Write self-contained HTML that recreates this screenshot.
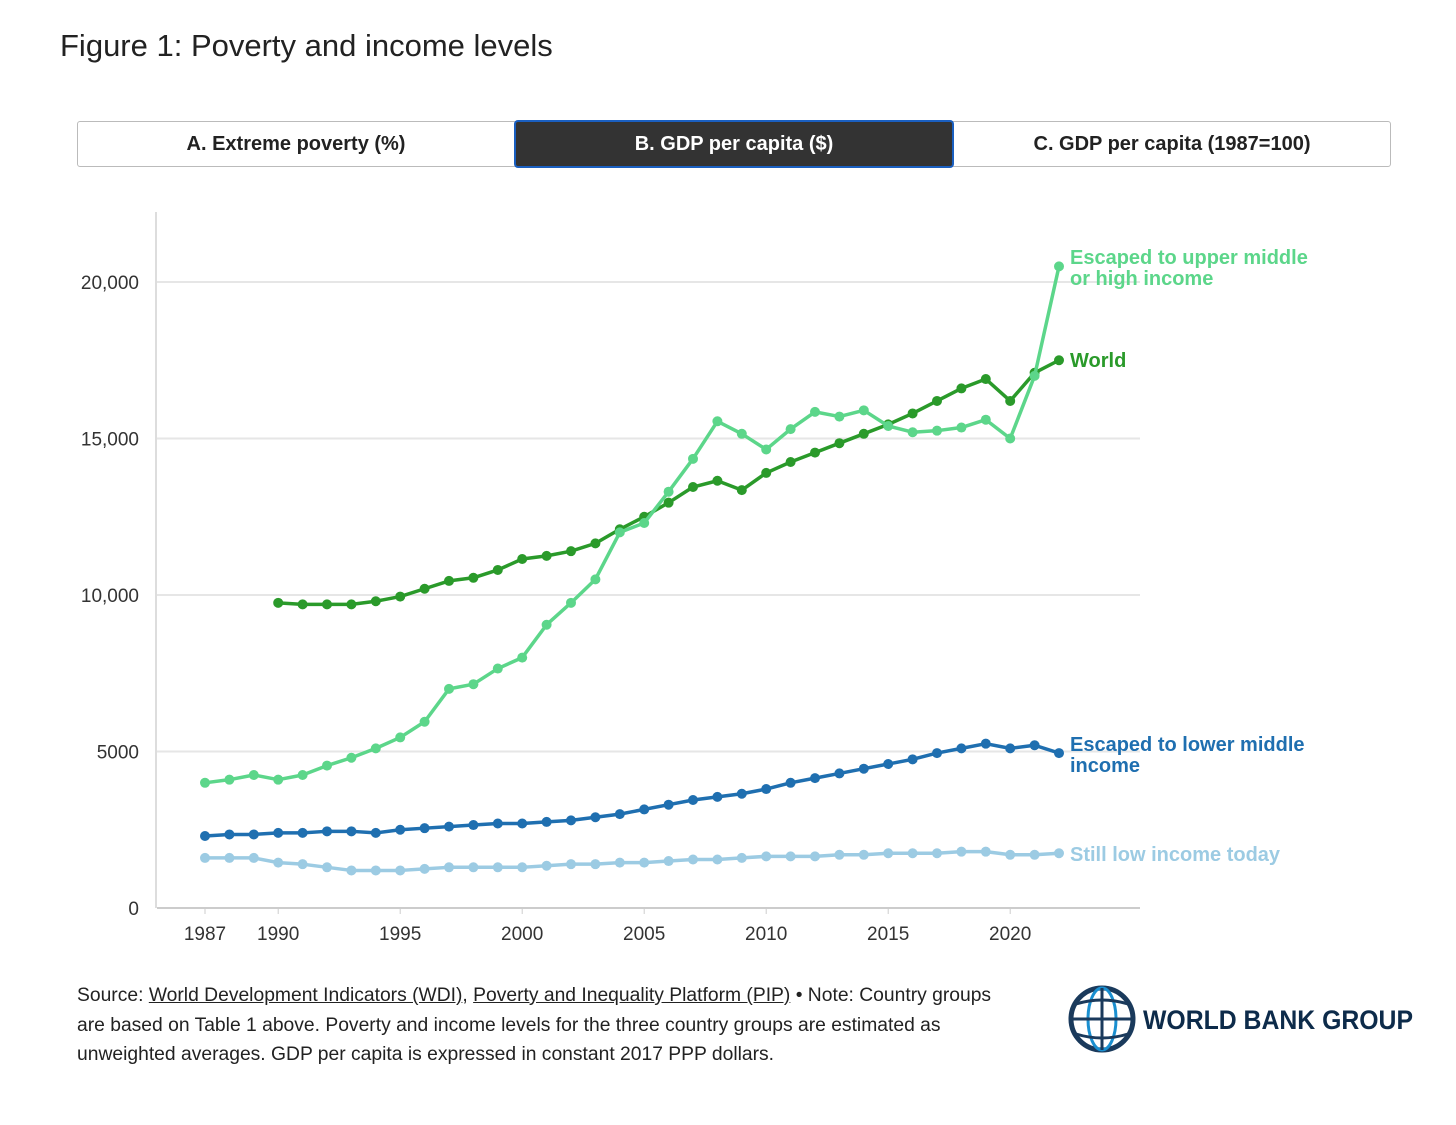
<!DOCTYPE html>
<html><head><meta charset="utf-8"><style>
body{margin:0;background:#fff;font-family:"Liberation Sans",sans-serif;}
#wrap{position:relative;width:1456px;height:1125px;overflow:hidden;}
.title{position:absolute;left:60px;top:28px;font-size:31px;color:#222;}
.tabs{position:absolute;left:77px;top:121px;width:1312px;height:44px;border:1px solid #bbb;border-radius:3px;display:flex;}
.tab{flex:1;display:flex;align-items:center;justify-content:center;font-size:20px;font-weight:bold;color:#222;}
.tab.on{background:#333;color:#fff;border:2px solid #1a5fc0;border-radius:4px;margin:-2px 0;}
.src{position:absolute;left:77px;top:981px;font-size:19.3px;line-height:29.5px;color:#222;width:915px;}
.src u{text-decoration:underline;}
</style></head><body><div id="wrap">
<div class="title">Figure 1: Poverty and income levels</div>
<div class="tabs">
<div class="tab">A. Extreme poverty (%)</div>
<div class="tab on">B. GDP per capita ($)</div>
<div class="tab">C. GDP per capita (1987=100)</div>
</div>
<svg id="chart" width="1456" height="1125" style="position:absolute;left:0;top:0"></svg>
<div class="src">Source: <u>World Development Indicators (WDI)</u>, <u>Poverty and Inequality Platform (PIP)</u> • Note: Country groups are based on Table 1 above. Poverty and income levels for the three country groups are estimated as unweighted averages. GDP per capita is expressed in constant 2017 PPP dollars.</div>
<svg style="position:absolute;left:1066px;top:984px" width="360" height="72">
<circle cx="36" cy="35" r="31" fill="none" stroke="#1a3a5c" stroke-width="5"/>
<ellipse cx="36" cy="35" rx="14" ry="31" fill="none" stroke="#1a8fd0" stroke-width="3"/>
<line x1="5" y1="35" x2="67" y2="35" stroke="#1a3a5c" stroke-width="3"/>
<path d="M10 20 Q36 12 62 20 M10 50 Q36 58 62 50" fill="none" stroke="#1a3a5c" stroke-width="3"/>
<line x1="36" y1="4" x2="36" y2="66" stroke="#1a3a5c" stroke-width="3"/>
<text x="77" y="45" font-size="27" font-weight="bold" fill="#0d2b4a" font-family="Liberation Sans" textLength="270" lengthAdjust="spacingAndGlyphs">WORLD BANK GROUP</text>
</svg>
</div>
<script>
const years=[];for(let y=1987;y<=2022;y++)years.push(y);
const upperVals=[4000,4100,4250,4100,4250,4550,4800,5100,5450,5950,7000,7150,7650,8000,9050,9750,10500,12000,12300,13300,14350,15550,15150,14650,15300,15850,15700,15900,15400,15200,15250,15350,15600,15000,17000,20500];
const worldVals=[null,null,null,9750,9700,9700,9700,9800,9950,10200,10450,10550,10800,11150,11250,11400,11650,12100,12500,12950,13450,13650,13350,13900,14250,14550,14850,15150,15450,15800,16200,16600,16900,16200,17100,17500];
const lowerVals=[2300,2350,2350,2400,2400,2450,2450,2400,2500,2550,2600,2650,2700,2700,2750,2800,2900,3000,3150,3300,3450,3550,3650,3800,4000,4150,4300,4450,4600,4750,4950,5100,5250,5100,5200,4950];
const lowVals=[1600,1600,1600,1450,1400,1300,1200,1200,1200,1250,1300,1300,1300,1300,1350,1400,1400,1450,1450,1500,1550,1550,1600,1650,1650,1650,1700,1700,1750,1750,1750,1800,1800,1700,1700,1750];
const yTicks=[0,5000,10000,15000,20000];
const yTickLabels=["0","5000","10,000","15,000","20,000"];
const xTicks=[1987,1990,1995,2000,2005,2010,2015,2020];
const X=y=>205+(y-1987)*24.4;
const Y=v=>908-v*0.0313;
const svg=document.getElementById('chart');const NS='http://www.w3.org/2000/svg';
function mk(t,a){const e=document.createElementNS(NS,t);for(const k in a)e.setAttribute(k,a[k]);svg.appendChild(e);return e;}
yTicks.forEach((v,i)=>{
const g=mk('line',{x1:157,x2:1140,y1:Y(v),y2:Y(v),stroke:v?'#e6e6e6':'#ccc','stroke-width':2});


const t=mk('text',{x:139,y:Y(v)+7,'text-anchor':'end','font-size':19,fill:'#333','font-family':'Liberation Sans'});t.textContent=yTickLabels[i];


});
const ax=mk('line',{x1:156,x2:156,y1:212,y2:908,stroke:'#ddd','stroke-width':2});


xTicks.forEach(y=>{
mk('line',{x1:X(y),x2:X(y),y1:908,y2:914,stroke:'#ccc'});
const t=mk('text',{x:X(y),y:940,'text-anchor':'middle','font-size':19,fill:'#333','font-family':'Liberation Sans'});t.textContent=y;


});
function series(vals,color,name,label,ly){
let d='';vals.forEach((v,i)=>{if(v==null)return;d+=(d?'L':'M')+X(years[i])+' '+Y(v);});
const p=mk('path',{d:d,fill:'none',stroke:color,'stroke-width':3.5,'stroke-linejoin':'round'});


vals.forEach((v,i)=>{if(v==null)return;const c=mk('circle',{cx:X(years[i]),cy:Y(v),r:5,fill:color});

});
label.forEach((s,j)=>{const t=mk('text',{x:1070,y:ly+j*21,'font-size':20,'font-weight':'bold',fill:color,'font-family':'Liberation Sans'});t.textContent=s;

});
}
series(lowVals,'#9ccbe3','still-low-income',['Still low income today'],861);
series(lowerVals,'#1f6fb0','lower-middle',['Escaped to lower middle','income'],751);
series(worldVals,'#2a9a2a','world',['World'],367);
series(upperVals,'#5cd68a','upper-middle',['Escaped to upper middle','or high income'],264);
</script>
</body></html>
